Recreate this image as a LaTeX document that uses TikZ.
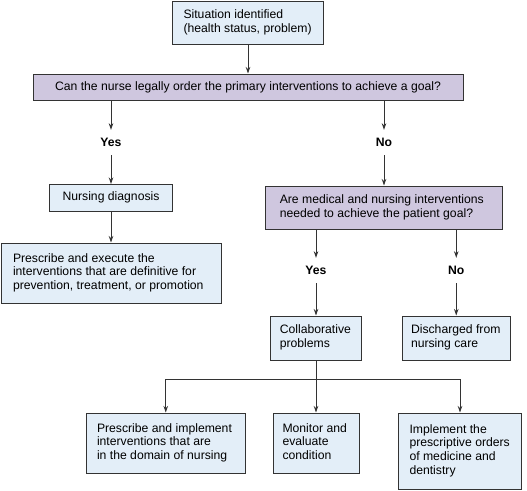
\documentclass[tikz,border=0pt]{standalone}
\usepackage{fontspec}
\setmainfont{Liberation Sans}
\usetikzlibrary{arrows.meta}
\definecolor{boxblue}{HTML}{E3EEF8}
\definecolor{boxpurple}{HTML}{CFC7DF}
\definecolor{edge}{HTML}{333333}
\newcommand\lefttext[2]{\makebox[#1pt][l]{\begin{tabular}{@{}l@{}}#2\end{tabular}}}
\tikzset{
  base/.style={draw=edge, line width=1pt, font=\fontsize{12.2}{13.7}\selectfont, inner ysep=0pt},
  bluebox/.style={base, fill=boxblue},
  purplebox/.style={base, fill=boxpurple},
  arr/.style={draw=edge, line width=1pt, -{Stealth[length=6.5pt,width=4.5pt]}},
  lab/.style={font=\fontsize{12.2}{13.7}\selectfont\bfseries, minimum height=25pt, inner sep=0pt},
}
\begin{document}
\begin{tikzpicture}[x=1pt,y=-1pt]
\useasboundingbox (0,0) rectangle (527,490);
\node[bluebox, minimum width=151, minimum height=43, inner xsep=11.5] (sit) at (247.5,22.5) {\lefttext{128}{Situation identified\\(health status, problem)}};
\node[purplebox, minimum width=430, minimum height=26] (q1) at (248,87) {Can the nurse legally order the primary interventions to achieve a goal?};
\node[lab] (yes1) at (111,142.5) {Yes};
\node[lab] (no1) at (384,142.5) {No};
\node[bluebox, minimum width=123, minimum height=26.5] (nd) at (111,197.75) {Nursing diagnosis};
\node[bluebox, minimum width=220, minimum height=60.5, inner xsep=12] (pr) at (111,273.25) {\lefttext{196}{Prescribe and execute the\\interventions that are definitive for\\prevention, treatment, or promotion}};
\node[purplebox, minimum width=236.5, minimum height=43.5, inner xsep=14] (q2) at (384,207.75) {\lefttext{208.5}{Are medical and nursing interventions\\needed to achieve the patient goal?}};
\node[lab] (yes2) at (316,270.5) {Yes};
\node[lab] (no2) at (456.25,270.5) {No};
\node[bluebox, minimum width=91.5, minimum height=44, inner xsep=9.5] (col) at (316,338) {\lefttext{72.5}{Collaborative\\problems}};
\node[bluebox, minimum width=107.5, minimum height=44, inner xsep=8.5] (dis) at (456.25,338) {\lefttext{90.5}{Discharged from\\nursing care}};
\node[bluebox, minimum width=159.5, minimum height=60.5, inner xsep=11] (b1) at (165.75,443.25) {\lefttext{137.5}{Prescribe and implement\\interventions that are\\in the domain of nursing}};
\node[bluebox, minimum width=86, minimum height=60.5, inner xsep=9.5] (b2) at (316,443.25) {\lefttext{67}{Monitor and\\evaluate\\condition}};
\node[bluebox, minimum width=123, minimum height=76, inner xsep=11] (b3) at (460,451) {\lefttext{101}{Implement the\\prescriptive orders\\of medicine and\\dentistry}};
\coordinate (j) at (316,379.3);
\draw[arr] (sit.south -| q1.north) -- (q1.north);
\draw[arr] (q1.south -| yes1) -- (yes1.north);
\draw[arr] (yes1.south) -- (nd.north);
\draw[arr] (nd.south) -- (pr.north);
\draw[arr] (q1.south -| no1) -- (no1.north);
\draw[arr] (no1.south) -- (q2.north);
\draw[arr] (q2.south -| yes2) -- (yes2.north);
\draw[arr] (yes2.south) -- (col.north);
\draw[arr] (q2.south -| no2) -- (no2.north);
\draw[arr] (no2.south) -- (dis.north);
\draw[arr] (col.south) -- (b2.north);
\draw[arr] (j) -| (b1.north);
\draw[arr] (j) -| (b3.north);
\end{tikzpicture}
\end{document}
